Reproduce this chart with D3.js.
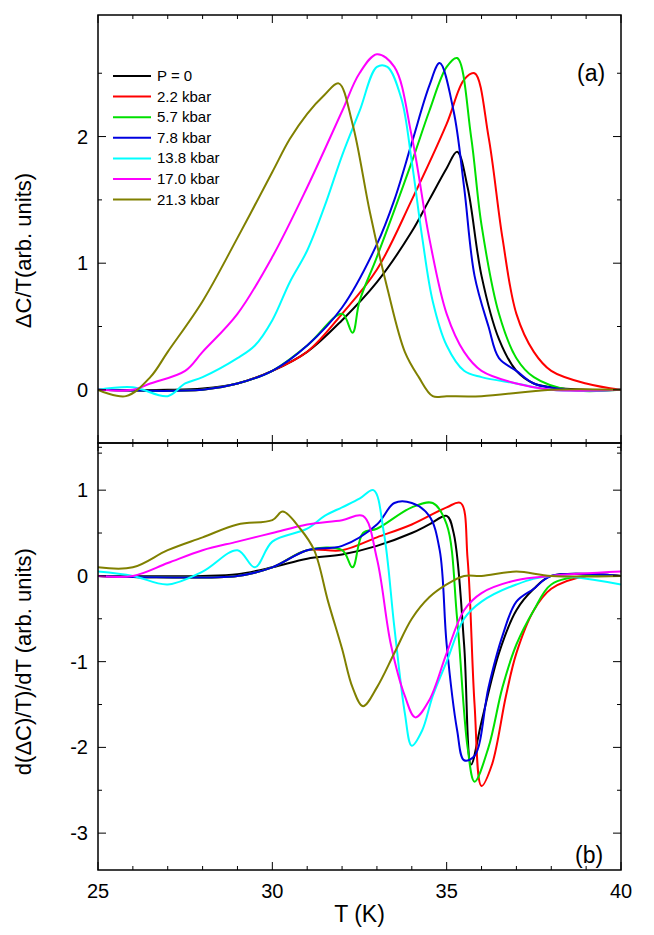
<!DOCTYPE html>
<html><head><meta charset="utf-8">
<script src="https://cdn.jsdelivr.net/npm/d3@7"></script>
<style>body{margin:0;background:#fff}text{font-family:"Liberation Sans",Arial,sans-serif}</style>
</head><body><svg id="c" width="654" height="935"></svg>
<script>
const names = ["P = 0","2.2 kbar","5.7 kbar","7.8 kbar","13.8 kbar","17.0 kbar","21.3 kbar"];
const colors = ["#000000","#ff0000","#00e000","#0000e0","#00ffff","#ff00ff","#808000"];
const xTicks = [25,30,35,40];

// panel (a): [T, dC/T]
const dcBlack = [[25,0],[27,0],[28,0.01],[29,0.05],[30,0.15],[31,0.3],[32,0.55],[33,0.85],[34,1.25],[34.5,1.5],[35,1.75],[35.3,1.88],[35.6,1.6],[36,0.9],[36.5,0.4],[37,0.15],[37.5,0.05],[38,0.02],[39,0],[40,0]];
const dcRed = [[25,0],[28,0],[29,0.05],[30,0.15],[31,0.3],[32,0.6],[33,0.95],[34,1.5],[35,2.1],[35.5,2.45],[35.8,2.5],[36.2,2.0],[36.6,1.2],[37,0.6],[37.5,0.3],[38,0.15],[39,0.05],[40,0]];
const dcGreen = [[25,0],[28,0],[29,0.05],[30,0.15],[31,0.35],[32,0.6],[32.3,0.45],[32.5,0.7],[33,1.05],[34,1.8],[34.5,2.2],[35,2.55],[35.3,2.62],[35.7,2.0],[36,1.3],[36.5,0.6],[37,0.25],[37.5,0.1],[38.5,0],[40,0]];
const dcBlue = [[25,0],[28,0],[29,0.05],[30,0.15],[31,0.35],[32,0.65],[33,1.15],[33.5,1.5],[34,1.95],[34.5,2.4],[34.8,2.58],[35.2,2.2],[35.5,1.6],[35.8,0.9],[36.2,0.5],[36.5,0.25],[37,0.15],[37.5,0.05],[38.5,0],[40,0]];
const dcCyan = [[25,0],[26,0.02],[27,-0.05],[27.5,0.05],[28,0.1],[29,0.25],[29.5,0.35],[30,0.55],[30.5,0.85],[31,1.1],[31.5,1.45],[32,1.85],[32.5,2.2],[33,2.55],[33.3,2.55],[33.7,2.3],[34,1.8],[34.3,1.2],[34.6,0.7],[35,0.35],[35.5,0.15],[36,0.1],[37,0.05],[38,0],[40,0]];
const dcMag = [[25,0],[26,0],[26.5,0.05],[27.5,0.15],[28,0.3],[29,0.6],[30,1.05],[31,1.6],[32,2.2],[32.5,2.5],[33,2.65],[33.5,2.55],[34,2.0],[34.5,1.2],[35,0.6],[35.5,0.3],[36,0.15],[37,0.05],[38,0],[40,0]];
const dcOlive = [[25,0],[25.8,-0.05],[26.5,0.1],[27,0.3],[28,0.7],[29,1.2],[30,1.72],[30.5,1.98],[31,2.18],[31.5,2.33],[31.9,2.42],[32.3,2.1],[32.8,1.4],[33.3,0.8],[33.8,0.3],[34.2,0.1],[34.6,-0.05],[35,-0.05],[36,-0.05],[38,0],[40,0]];

// panel (b): [T, d(dC/T)/dT]
const dvBlack = [[25,0],[28,0],[29,0.02],[30,0.1],[31,0.2],[32,0.25],[33,0.35],[34,0.5],[34.5,0.6],[35,0.7],[35.2,0.5],[35.5,-0.8],[35.7,-2.2],[36,-1.7],[36.5,-0.9],[37,-0.4],[37.5,-0.15],[38,0],[40,0]];
const dvRed = [[25,0],[29,0],[30,0.1],[31,0.3],[32,0.3],[33,0.45],[34,0.6],[35,0.8],[35.4,0.85],[35.6,0.2],[35.8,-1.5],[36,-2.45],[36.3,-2.2],[36.7,-1.4],[37,-0.9],[37.5,-0.4],[38,-0.15],[39,0],[40,0]];
const dvGreen = [[25,0],[29,0],[30,0.1],[31,0.3],[32,0.3],[32.3,0.1],[32.6,0.5],[33,0.55],[34,0.8],[34.6,0.85],[35,0.6],[35.3,-0.5],[35.6,-2.0],[35.8,-2.4],[36.2,-2.0],[36.6,-1.3],[37,-0.8],[37.5,-0.4],[38,-0.1],[39,0],[40,0]];
const dvBlue = [[25,0],[29,0],[30,0.1],[31,0.3],[32,0.35],[33,0.6],[33.5,0.85],[34,0.85],[34.5,0.7],[34.8,0.3],[35,-0.8],[35.3,-1.8],[35.5,-2.15],[35.8,-2.1],[36.2,-1.3],[36.6,-0.7],[37,-0.3],[37.5,-0.15],[38,0],[40,0]];
const dvCyan = [[25,0.05],[26,0],[27,-0.1],[28,0.05],[29,0.3],[29.5,0.1],[30,0.4],[31,0.55],[31.5,0.7],[32,0.8],[32.5,0.9],[32.9,1.0],[33.2,0.5],[33.5,-0.6],[33.8,-1.6],[34,-1.98],[34.3,-1.8],[34.6,-1.4],[35,-1.0],[35.5,-0.5],[36,-0.3],[37,-0.1],[38,0],[40,-0.1]];
const dvMag = [[25,0],[26,0],[27,0.15],[28,0.3],[29,0.4],[30,0.5],[31,0.6],[32,0.65],[32.6,0.7],[33,0.2],[33.4,-0.8],[33.8,-1.4],[34.1,-1.65],[34.5,-1.45],[35,-0.9],[35.5,-0.4],[36,-0.2],[37,-0.05],[38,0],[40,0.05]];
const dvOlive = [[25,0.1],[26,0.1],[27,0.3],[28,0.45],[29,0.6],[30,0.65],[30.3,0.75],[30.8,0.55],[31.2,0.3],[31.6,-0.3],[32,-0.85],[32.3,-1.3],[32.6,-1.52],[33,-1.3],[33.5,-0.9],[34,-0.5],[34.5,-0.25],[35,-0.1],[35.5,0],[36,0],[37,0.05],[38,0],[40,0]];

const topSeries = [dcBlack,dcRed,dcGreen,dcBlue,dcCyan,dcMag,dcOlive];
const botSeries = [dvBlack,dvRed,dvGreen,dvBlue,dvCyan,dvMag,dvOlive];

const svg = d3.select("#c");
const L = 98, R = 621;
const x = d3.scaleLinear().domain([25,40]).range([L,R]);
const yTop = d3.scaleLinear().domain([-0.42,2.96]).range([443,15]);
const yBot = d3.scaleLinear().domain([-3.43,1.55]).range([870,443]);

function panel(y, series, majors, minors, xlabels) {
  const [y0,y1] = y.range();
  const clipId = "cl" + y0;
  svg.append("clipPath").attr("id", clipId).append("rect")
    .attr("x", L).attr("y", y1).attr("width", R - L).attr("height", y0 - y1);
  const line = d3.line().x(d => x(d[0])).y(d => y(d[1])).curve(d3.curveCatmullRom);
  series.forEach((s, i) => {
    svg.append("path").attr("d", line(s)).attr("fill", "none")
      .attr("stroke", colors[i]).attr("stroke-width", 2).attr("clip-path", `url(#${clipId})`);
  });
  svg.append("rect").attr("x", L).attr("y", y1).attr("width", R - L).attr("height", y0 - y1)
    .attr("fill", "none").attr("stroke", "#000").attr("stroke-width", 1.5);
  // x ticks inward, top and bottom
  const xMinor = d3.range(25, 41, 1);
  xMinor.forEach(t => {
    const len = t % 5 === 0 ? 8 : 4;
    svg.append("line").attr("x1", x(t)).attr("x2", x(t)).attr("y1", y0).attr("y2", y0 - len).attr("stroke", "#000");
    svg.append("line").attr("x1", x(t)).attr("x2", x(t)).attr("y1", y1).attr("y2", y1 + len).attr("stroke", "#000");
  });
  minors.forEach(t => {
    svg.append("line").attr("x1", L).attr("x2", L + 4).attr("y1", y(t)).attr("y2", y(t)).attr("stroke", "#000");
    svg.append("line").attr("x1", R).attr("x2", R - 4).attr("y1", y(t)).attr("y2", y(t)).attr("stroke", "#000");
  });
  majors.forEach(t => {
    svg.append("line").attr("x1", L).attr("x2", L + 8).attr("y1", y(t)).attr("y2", y(t)).attr("stroke", "#000");
    svg.append("line").attr("x1", R).attr("x2", R - 8).attr("y1", y(t)).attr("y2", y(t)).attr("stroke", "#000");
    svg.append("text").attr("x", L - 10).attr("y", y(t) + 7).attr("text-anchor", "end")
      .attr("font-size", 20).text(t);
  });
  if (xlabels) xTicks.forEach(t => {
    svg.append("text").attr("x", x(t)).attr("y", y0 + 28).attr("text-anchor", "middle")
      .attr("font-size", 20).text(t);
  });
}

panel(yTop, topSeries, [0,1,2], [-0.5,0.5,1.5,2.5], false);
panel(yBot, botSeries, [1,0,-1,-2,-3], [1.5,0.5,-0.5,-1.5,-2.5], true);

// legend
names.forEach((n, i) => {
  const ly = 76 + i * 20.6;
  svg.append("line").attr("x1", 113).attr("x2", 151).attr("y1", ly).attr("y2", ly)
    .attr("stroke", colors[i]).attr("stroke-width", 2);
  svg.append("text").attr("x", 157).attr("y", ly + 5).attr("font-size", 15).text(n);
});

svg.append("text").attr("x", 577).attr("y", 81).attr("font-size", 23).text("(a)");
svg.append("text").attr("x", 575).attr("y", 863).attr("font-size", 23).text("(b)");
svg.append("text").attr("x", x(32.5)).attr("y", 922).attr("text-anchor", "middle").attr("font-size", 23).text("T (K)");
svg.append("text").attr("transform", `translate(31,${yTop(1.1)}) rotate(-90)`).attr("text-anchor", "middle")
  .attr("font-size", 22).text("ΔC/T(arb. units)");
svg.append("text").attr("transform", `translate(31,${yBot(-1.0)}) rotate(-90)`).attr("text-anchor", "middle")
  .attr("font-size", 22).text("d(ΔC)/T)/dT (arb. units)");
</script></body></html>
